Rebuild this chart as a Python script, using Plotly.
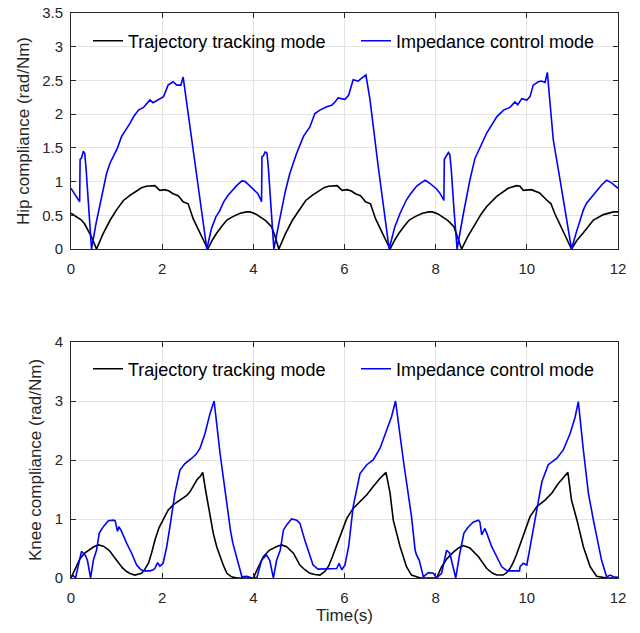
import plotly.graph_objects as go

# ---------------- Hip compliance ----------------
hip_track_t = [0.00, 0.10, 0.23, 0.30, 0.38, 0.45, 0.56, 0.70, 0.86, 1.00, 1.15, 1.30, 1.44, 1.55, 1.65, 1.77, 1.84, 1.90, 1.95, 2.06, 2.15, 2.24, 2.35, 2.39, 2.46, 2.57, 2.62, 2.68, 2.80, 2.90, 3.00,
               3.10, 3.19, 3.30, 3.42, 3.55, 3.71, 3.85, 3.93, 4.05, 4.15, 4.27, 4.40, 4.47, 4.56,
               4.70, 4.86, 5.00, 5.15, 5.30, 5.44, 5.55, 5.65, 5.77, 5.84, 5.90, 5.95, 6.06, 6.15, 6.24, 6.35, 6.39, 6.46, 6.57, 6.62, 6.68, 6.80, 6.90, 7.00,
               7.10, 7.19, 7.30, 7.42, 7.55, 7.71, 7.85, 7.93, 8.05, 8.15, 8.27, 8.40, 8.47, 8.57,
               8.70, 8.83, 9.00, 9.12, 9.34, 9.59, 9.77, 9.85, 9.92, 10.10, 10.28, 10.43, 10.53, 10.61, 10.70, 10.80, 10.90, 10.98,
               11.10, 11.24, 11.46, 11.68, 11.90, 12.00]
hip_track_y = [0.53, 0.49, 0.43, 0.37, 0.28, 0.18, 0.00, 0.22, 0.43, 0.58, 0.72, 0.80, 0.86, 0.91, 0.93, 0.94, 0.94, 0.90, 0.87, 0.88, 0.86, 0.82, 0.79, 0.76, 0.70, 0.67, 0.58, 0.45, 0.28, 0.13, 0.00,
               0.13, 0.23, 0.33, 0.43, 0.48, 0.53, 0.55, 0.55, 0.52, 0.48, 0.42, 0.33, 0.20, 0.00,
               0.22, 0.43, 0.58, 0.72, 0.80, 0.86, 0.91, 0.93, 0.94, 0.94, 0.90, 0.87, 0.88, 0.86, 0.82, 0.79, 0.76, 0.70, 0.67, 0.58, 0.45, 0.28, 0.13, 0.00,
               0.13, 0.23, 0.33, 0.43, 0.48, 0.53, 0.55, 0.55, 0.52, 0.48, 0.42, 0.33, 0.20, 0.00,
               0.18, 0.33, 0.52, 0.63, 0.78, 0.90, 0.94, 0.93, 0.87, 0.88, 0.83, 0.73, 0.67, 0.53, 0.40, 0.25, 0.12, 0.00,
               0.13, 0.24, 0.43, 0.51, 0.55, 0.55]

hip_imp_t = [0.00, 0.08, 0.16, 0.19, 0.20, 0.23, 0.27, 0.30, 0.33, 0.39, 0.45, 0.55, 0.65, 0.78, 0.86, 0.93, 1.02, 1.11, 1.20, 1.29, 1.38, 1.48, 1.59, 1.66, 1.73, 1.80, 1.88, 1.95, 2.03, 2.13, 2.24, 2.32, 2.41, 2.46, 2.57, 2.76, 2.98,
             3.08, 3.18, 3.25, 3.27, 3.35, 3.45, 3.55, 3.65, 3.75, 3.82, 3.90, 4.00, 4.10, 4.17, 4.18,
             4.19, 4.22, 4.26, 4.30, 4.33, 4.39, 4.45, 4.59, 4.70, 4.80, 4.88, 4.95, 5.10, 5.24, 5.35, 5.46, 5.61, 5.72, 5.79, 5.86, 5.93, 6.01, 6.09, 6.19, 6.25, 6.30, 6.37, 6.47, 6.56, 6.74, 6.98,
             7.10, 7.22, 7.36, 7.45, 7.58, 7.68, 7.77, 7.88, 8.02, 8.10, 8.17, 8.18,
             8.19, 8.22, 8.28, 8.31, 8.34, 8.40, 8.47, 8.61, 8.75, 8.86, 9.00, 9.12, 9.34, 9.49, 9.63, 9.74, 9.80, 9.89, 10.00, 10.07, 10.14, 10.25, 10.32, 10.40, 10.45, 10.58, 10.73, 10.98,
             11.10, 11.24, 11.31, 11.46, 11.64, 11.75, 11.86, 12.00]
hip_imp_y = [0.90, 0.82, 0.74, 0.70, 1.33, 1.35, 1.45, 1.42, 1.20, 0.60, 0.00, 0.38, 0.72, 1.12, 1.28, 1.37, 1.50, 1.67, 1.76, 1.86, 1.97, 2.06, 2.10, 2.15, 2.21, 2.17, 2.20, 2.22, 2.26, 2.43, 2.48, 2.43, 2.43, 2.55, 2.01, 1.12, 0.00,
             0.30, 0.48, 0.55, 0.58, 0.70, 0.80, 0.88, 0.95, 1.01, 1.00, 0.95, 0.89, 0.82, 0.72, 0.70,
             1.37, 1.38, 1.44, 1.42, 1.20, 0.60, 0.00, 0.48, 0.85, 1.12, 1.30, 1.42, 1.67, 1.81, 2.01, 2.06, 2.11, 2.13, 2.18, 2.24, 2.23, 2.22, 2.28, 2.51, 2.50, 2.49, 2.53, 2.58, 2.21, 1.22, 0.00,
             0.32, 0.53, 0.73, 0.82, 0.93, 0.98, 1.02, 0.97, 0.89, 0.82, 0.73, 0.72,
             1.33, 1.36, 1.43, 1.40, 1.20, 0.60, 0.00, 0.53, 1.02, 1.34, 1.55, 1.72, 1.96, 2.06, 2.10, 2.18, 2.14, 2.23, 2.21, 2.26, 2.43, 2.48, 2.49, 2.47, 2.62, 1.62, 1.02, 0.00,
             0.28, 0.58, 0.68, 0.80, 0.95, 1.02, 0.98, 0.90]

# ---------------- Knee compliance ----------------
knee_track_t = [0.00, 0.10, 0.20, 0.30, 0.38, 0.50, 0.60, 0.71, 0.80, 0.86, 0.95, 1.04, 1.13, 1.22, 1.31, 1.40, 1.48, 1.55, 1.62, 1.70, 1.77, 1.84, 1.93, 2.03, 2.13, 2.24, 2.35, 2.46, 2.54, 2.61, 2.68, 2.76, 2.84, 2.89, 2.95, 3.01, 3.12, 3.20, 3.27, 3.35, 3.42, 3.52, 3.64, 3.80, 4.00,
                4.10, 4.22, 4.35, 4.50, 4.62, 4.73, 4.88, 5.02, 5.13, 5.24, 5.35, 5.46, 5.57, 5.65, 5.72, 5.80, 5.90, 6.05, 6.19, 6.34, 6.49, 6.63, 6.78, 6.91, 7.00, 7.07, 7.15, 7.22, 7.36, 7.47, 7.66, 7.85, 8.02,
                8.13, 8.24, 8.39, 8.50, 8.61, 8.75, 8.94, 9.12, 9.25, 9.34, 9.48, 9.56, 9.63, 9.70, 9.77, 9.92, 10.07, 10.22, 10.40, 10.55, 10.69, 10.80, 10.90, 10.98, 11.10, 11.24, 11.39, 11.53, 11.75, 12.00]
knee_track_y = [0.00, 0.18, 0.33, 0.42, 0.47, 0.53, 0.56, 0.54, 0.49, 0.45, 0.35, 0.25, 0.17, 0.11, 0.07, 0.05, 0.06, 0.08, 0.15, 0.25, 0.43, 0.64, 0.85, 1.01, 1.15, 1.24, 1.30, 1.35, 1.40, 1.46, 1.56, 1.66, 1.73, 1.79, 1.50, 1.21, 0.76, 0.52, 0.36, 0.20, 0.08, 0.02, 0.00, 0.00, 0.00,
                0.17, 0.36, 0.47, 0.53, 0.56, 0.53, 0.42, 0.22, 0.14, 0.08, 0.06, 0.05, 0.11, 0.20, 0.33, 0.50, 0.70, 1.01, 1.18, 1.29, 1.41, 1.55, 1.69, 1.79, 1.44, 0.98, 0.74, 0.53, 0.19, 0.05, 0.00, 0.00, 0.00,
                0.19, 0.32, 0.44, 0.51, 0.55, 0.51, 0.36, 0.16, 0.08, 0.05, 0.05, 0.09, 0.16, 0.26, 0.39, 0.70, 1.04, 1.21, 1.32, 1.44, 1.60, 1.70, 1.79, 1.32, 0.98, 0.53, 0.19, 0.03, 0.00, 0.00]

knee_imp_t = [0.00, 0.05, 0.10, 0.17, 0.23, 0.27, 0.31, 0.36, 0.43, 0.49, 0.56, 0.62, 0.71, 0.82, 0.93, 0.97, 1.00, 1.02, 1.05, 1.11, 1.22, 1.33, 1.44, 1.52, 1.59, 1.73, 1.80, 1.84, 1.90, 1.95, 2.02, 2.10, 2.17, 2.28, 2.39, 2.50, 2.65, 2.75, 2.83, 2.94, 3.05, 3.14, 3.27, 3.42, 3.50, 3.55, 3.60, 3.64, 3.75, 3.86, 3.97, 4.08,
              4.18, 4.29, 4.36, 4.44, 4.51, 4.59, 4.66, 4.73, 4.84, 4.95, 5.02, 5.13, 5.24, 5.31, 5.42, 5.61, 5.72, 5.83, 5.88, 5.94, 6.01, 6.09, 6.19, 6.34, 6.49, 6.63, 6.78, 6.93, 7.03, 7.12, 7.29, 7.47, 7.55, 7.58, 7.64, 7.73, 7.84, 7.95, 8.02,
              8.13, 8.24, 8.31, 8.39, 8.44, 8.53, 8.62, 8.72, 8.83, 8.94, 8.97, 9.01, 9.08, 9.12, 9.23, 9.34, 9.45, 9.57, 9.70, 9.84, 9.85, 9.92, 10.00, 10.10, 10.22, 10.33, 10.47, 10.66, 10.80, 10.95, 11.06, 11.13, 11.24, 11.35, 11.46, 11.57, 11.61, 11.64, 11.75, 11.83, 11.90, 12.00]
knee_imp_y = [0.02, 0.04, 0.00, 0.25, 0.45, 0.42, 0.39, 0.30, 0.00, 0.30, 0.47, 0.76, 0.87, 0.97, 0.98, 0.97, 0.88, 0.79, 0.87, 0.79, 0.59, 0.42, 0.22, 0.15, 0.12, 0.12, 0.14, 0.16, 0.26, 0.20, 0.25, 0.53, 0.87, 1.44, 1.83, 1.94, 2.03, 2.10, 2.20, 2.45, 2.79, 3.00, 2.11, 1.21, 0.80, 0.59, 0.45, 0.31, 0.02, 0.03, 0.00, 0.01,
              0.30, 0.39, 0.30, 0.00, 0.30, 0.47, 0.81, 0.90, 1.00, 0.98, 0.93, 0.64, 0.36, 0.22, 0.15, 0.15, 0.16, 0.16, 0.25, 0.14, 0.22, 0.53, 1.21, 1.77, 1.92, 2.00, 2.20, 2.51, 2.73, 3.00, 2.00, 1.04, 0.47, 0.39, 0.30, 0.02, 0.09, 0.08, 0.00,
              0.08, 0.47, 0.42, 0.19, 0.00, 0.42, 0.76, 0.87, 0.95, 0.98, 0.95, 0.73, 0.84, 0.76, 0.53, 0.36, 0.19, 0.12, 0.12, 0.12, 0.19, 0.25, 0.22, 0.64, 1.21, 1.63, 1.92, 2.03, 2.17, 2.45, 2.73, 2.99, 2.17, 1.44, 0.98, 0.53, 0.42, 0.30, 0.02, 0.05, 0.02, 0.01]

series_names = ["Trajectory tracking mode", "Impedance control mode"]
hip_ticks = [0, 0.5, 1, 1.5, 2, 2.5, 3, 3.5]
hip_tick_text = ["0", "0.5", "1", "1.5", "2", "2.5", "3", "3.5"]
knee_ticks = [0, 1, 2, 3, 4]
time_ticks = [0, 2, 4, 6, 8, 10, 12]

FONT = "Liberation Sans, Arial, sans-serif"
AX = "#262626"
GRID = "#e3e3e3"

fig = go.Figure()
fig.add_trace(go.Scatter(x=hip_track_t, y=hip_track_y, mode="lines", name=series_names[0],
                         line=dict(color="black", width=1.6), xaxis="x", yaxis="y", legend="legend"))
fig.add_trace(go.Scatter(x=hip_imp_t, y=hip_imp_y, mode="lines", name=series_names[1],
                         line=dict(color="#0000ff", width=1.6), xaxis="x", yaxis="y", legend="legend"))
fig.add_trace(go.Scatter(x=knee_track_t, y=knee_track_y, mode="lines", name=series_names[0],
                         line=dict(color="black", width=1.6), xaxis="x2", yaxis="y2", legend="legend2"))
fig.add_trace(go.Scatter(x=knee_imp_t, y=knee_imp_y, mode="lines", name=series_names[1],
                         line=dict(color="#0000ff", width=1.6), xaxis="x2", yaxis="y2", legend="legend2"))

W, H = 640, 633
ML, MR, MT, MB = 71, 22, 13, 55
PH = H - MT - MB  # plot-area height in px
PW = W - ML - MR


def ydom(top_px, bot_px):
    return [(H - MB - bot_px) / PH, (H - MB - top_px) / PH]


ax_common = dict(showline=True, linecolor=AX, linewidth=1, mirror="allticks", ticks="inside",
                 ticklen=5, tickcolor=AX, showgrid=True, gridcolor=GRID, gridwidth=1, zeroline=False,
                 automargin=False, tickfont=dict(family=FONT, size=15, color=AX))
TITLE_FONT = dict(family=FONT, size=17, color=AX)
LEG_FONT = dict(family=FONT, size=18, color="black")

fig.update_layout(
    width=W, height=H,
    margin=dict(l=ML, r=MR, t=MT, b=MB),
    paper_bgcolor="white", plot_bgcolor="white",
    font=dict(family=FONT, color=AX),
    xaxis=dict(domain=[0, 1], anchor="y", range=[0, 12], tickvals=time_ticks,
               ticklabelstandoff=6, **ax_common),
    yaxis=dict(domain=ydom(13, 249), anchor="x", range=[0, 3.5], tickvals=hip_ticks,
               ticktext=hip_tick_text, ticklabelstandoff=4,
               title=dict(text="Hip compliance (rad/Nm)", font=TITLE_FONT, standoff=8),
               **ax_common),
    xaxis2=dict(domain=[0, 1], anchor="y2", range=[0, 12], tickvals=time_ticks, ticklabelstandoff=6,
                title=dict(text="Time(s)", font=TITLE_FONT, standoff=4),
                **ax_common),
    yaxis2=dict(domain=ydom(342, 578), anchor="x2", range=[0, 4], tickvals=knee_ticks, ticklabelstandoff=4,
                title=dict(text="Knee compliance (rad/Nm)", font=TITLE_FONT, standoff=8),
                **ax_common),
    legend=dict(orientation="h", x=17 / PW, y=1 - 28 / PH, xanchor="left", yanchor="middle",
                bgcolor="rgba(0,0,0,0)", font=LEG_FONT,
                entrywidth=223, entrywidthmode="pixels", tracegroupgap=0),
    legend2=dict(orientation="h", x=17 / PW, y=(H - MB - 369) / PH, xanchor="left", yanchor="middle",
                 bgcolor="rgba(0,0,0,0)", font=LEG_FONT,
                 entrywidth=223, entrywidthmode="pixels", tracegroupgap=0),
)

fig.write_html("out.html", config={"displayModeBar": False},
               post_script="document.body.style.margin='0px';")
